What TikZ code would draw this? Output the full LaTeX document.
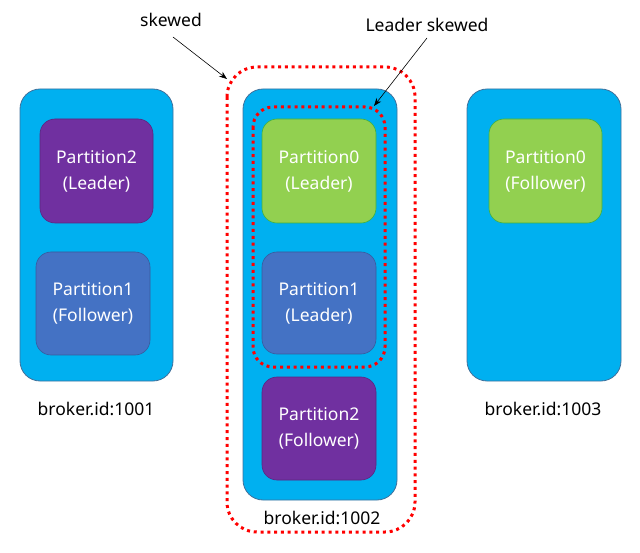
\documentclass[tikz,border=0pt]{standalone}
\usepackage{fontspec}
\setmainfont{Noto Sans}
\usetikzlibrary{arrows.meta}
\definecolor{brokerblue}{HTML}{00B0F0}
\definecolor{brokeredge}{HTML}{41719C}
\definecolor{ppurple}{HTML}{7030A0}
\definecolor{pblue}{HTML}{4472C4}
\definecolor{pgreen}{HTML}{92D050}
\definecolor{pgreenedge}{HTML}{3CB043}
\definecolor{dotred}{HTML}{FF0000}
\tikzset{
  broker/.style={draw=brokeredge, fill=brokerblue, line width=0.8pt, rounded corners=20pt},
  part/.style={draw=#1!80!black, rounded corners=15pt, line width=0.6pt, text=white, align=center, font=\fontsize{17.5}{26}\selectfont},
  purplepart/.style={part=ppurple, fill=ppurple},
  bluepart/.style={part=pblue, fill=pblue},
  greenpart/.style={part=pgreen, fill=pgreen, draw=pgreenedge},
  lbl/.style={font=\fontsize{17.5}{21}\selectfont, text=black},
  reddot/.style={draw=dotred, line width=3pt, dash pattern=on 3pt off 3.8pt},
  pointer/.style={draw=black, line width=0.6pt, -{Stealth[length=8pt,width=6pt]}}
}
\begin{document}
\begin{tikzpicture}[x=1pt,y=-1pt]
\useasboundingbox (0,0) rectangle (640,553);
% brokers
\draw[broker] (20,89) rectangle (173,381);
\draw[broker] (243,89) rectangle (397,500);
\draw[broker] (467,89) rectangle (621,381);
% partitions broker 1001
\node[purplepart, minimum width=113pt, minimum height=104pt] (b1p2) at (96.5,171) {Partition2\\(Leader)};
\node[bluepart, minimum width=114pt, minimum height=103pt] (b1p1) at (93,303.5) {Partition1\\(Follower)};
% partitions broker 1002
\node[greenpart, minimum width=114pt, minimum height=104pt] (b2p0) at (319,171) {Partition0\\(Leader)};
\node[bluepart, minimum width=114pt, minimum height=102pt] (b2p1) at (319,303) {Partition1\\(Leader)};
\node[purplepart, minimum width=114pt, minimum height=103pt] (b2p2) at (319,428.5) {Partition2\\(Follower)};
% partition broker 1003
\node[greenpart, minimum width=113pt, minimum height=104pt] (b3p0) at (545.5,171) {Partition0\\(Follower)};
% labels
\node[lbl] (l1) at (96,409) {broker.id:1001};
\node[lbl] (l2) at (322,518) {broker.id:1002};
\node[lbl] (l3) at (543,409) {broker.id:1003};
% dotted regions
\draw[reddot, rounded corners=30pt] (227,67) rectangle (415,532);
\draw[reddot, rounded corners=20pt] (253,107) rectangle (385,367);
\coordinate (outerc) at (227,79);
\coordinate (innerc) at (374,106);
\coordinate (skstart) at (173,37);
\coordinate (lskstart) at (427,38);
% annotations
\node[lbl] (sk) at (171,20) {skewed};
\node[lbl] (lsk) at (427,25) {Leader skewed};
\draw[pointer] (skstart) -- (outerc);
\draw[pointer] (lskstart) -- (innerc);
\end{tikzpicture}
\end{document}
